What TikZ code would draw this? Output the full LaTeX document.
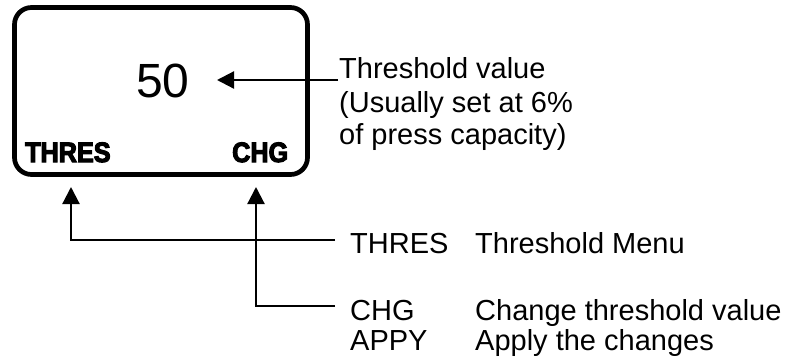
\documentclass[tikz,border=0pt]{standalone}
\usepackage{fontspec}
\setmainfont{Liberation Sans}
\newfontfamily\lcdfont[FakeBold=4,FakeStretch=0.9]{Liberation Sans Bold}
\usetikzlibrary{arrows.meta}
\tikzset{
  lbl/.style={inner sep=0pt, anchor=base west, font=\fontsize{29}{33}\selectfont},
  lcdlbl/.style={inner sep=0pt, anchor=base west, font=\lcdfont\fontsize{28}{30}\selectfont},
  conn/.style={line width=2.2pt},
  tip/.style={-{Triangle[length=17pt,width=17pt]}},
}
\begin{document}
\begin{tikzpicture}[x=1pt,y=-1pt]
\useasboundingbox (0,0) rectangle (788,360);
% LCD box
\node[draw, line width=4.7pt, rounded corners=17pt, minimum width=293pt, minimum height=167pt, inner sep=0pt] (lcd) at (161,91) {};
\node[inner sep=0pt, anchor=base, font=\fontsize{48}{50}\selectfont] (v50) at (163,97) {50};
\node[lcdlbl] (sthres) at (25,162) {THRES};
\node[lcdlbl] (schg) at (232,162) {CHG};
% threshold value text
\node[lbl] (tv1) at (339,78) {Threshold value};
\node[lbl] (tv2) at (339,112) {(Usually set at 6\%};
\node[lbl] (tv3) at (339,144) {of press capacity)};
% bottom legend
\node[lbl] (bthres) at (350,253) {THRES};
\node[lbl] (dthres) at (475,253) {Threshold Menu};
\node[lbl] (bchg) at (350,320) {CHG};
\node[lbl] (dchg) at (475,320) {Change threshold value};
\node[lbl] (bappy) at (350,350) {APPY};
\node[lbl] (dappy) at (475,350) {Apply the changes};
% connectors
\coordinate (tvs) at (338,80);
\coordinate (tvt) at (217,80);
\draw[conn,tip] (tvs) -- (tvt);
\coordinate (c1) at (335,240);
\coordinate (t1) at (71,187);
\draw[conn,tip] (c1) -| (t1);
\coordinate (c2) at (335,306);
\coordinate (t2) at (256,187);
\draw[conn,tip] (c2) -| (t2);
\end{tikzpicture}
\end{document}
